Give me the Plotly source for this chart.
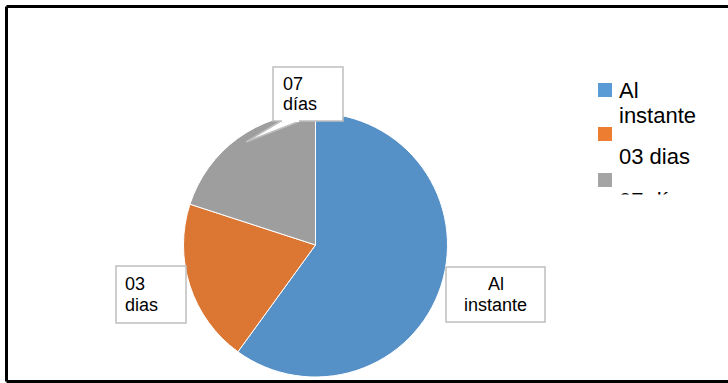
import plotly.graph_objects as go

# Response time categories and their shares
categories = ["Al instante", "03 dias", "07 días"]
shares = [60, 20, 20]
slice_colors = ["#5590C7", "#DC7633", "#9E9E9E"]
legend_colors = ["#5B9BD5", "#ED7D31", "#A5A5A5"]

W, H = 728, 383


def px(x):
    return x / W


def py(y):
    return 1 - y / H


fig = go.Figure()

# Pie: centre ~ (315.5, 245) px, radius ~132 px
cx, cy, r = 315.5, 245, 132
fig.add_trace(go.Pie(
    labels=categories,
    values=shares,
    sort=False,
    direction="clockwise",
    rotation=0,
    textinfo="none",
    hoverinfo="label+percent",
    showlegend=False,
    marker=dict(colors=slice_colors, line=dict(color="white", width=1)),
    domain=dict(x=[px(cx - r), px(cx + r)], y=[py(cy + r), py(cy - r)]),
))

shapes = []
annotations = []
FONT = "Liberation Sans, Arial, sans-serif"

# Outer frame (left, top, bottom)
for x0, y0, x1, y1 in [(6.5, 6.5, 6.5, 381.5), (6.5, 6.5, 728, 6.5), (6.5, 381.5, 728, 381.5)]:
    shapes.append(dict(type="line", xref="paper", yref="paper",
                       x0=px(x0), y0=py(y0), x1=px(x1), y1=py(y1),
                       line=dict(color="black", width=3)))

# Callout boxes for data labels
box_line = dict(color="#BFBFBF", width=1.5)
# tail of the "07 días" callout pointing into its slice
shapes.append(dict(type="path", xref="paper", yref="paper",
                   path=f"M {px(281)},{py(121)} L {px(246)},{py(142)} L {px(300)},{py(121)} Z",
                   fillcolor="white", line=box_line))
for x0, y0, x1, y1 in [(273, 67, 343, 121), (116, 266, 186, 323), (446, 267, 545, 322)]:
    shapes.append(dict(type="rect", xref="paper", yref="paper",
                       x0=px(x0), y0=py(y0), x1=px(x1), y1=py(y1),
                       fillcolor="white", line=box_line))
# cover the join between the tail and the box
shapes.append(dict(type="line", xref="paper", yref="paper",
                   x0=px(282), y0=py(121), x1=px(299), y1=py(121),
                   line=dict(color="white", width=2)))

label_lines = [
    ("07", 281, 84, "left"), ("días", 281, 104, "left"),
    ("03", 123, 284, "left"), ("dias", 123, 305, "left"),
    ("Al", 495.5, 284, "center"), ("instante", 495.5, 305, "center"),
]
for text, x, y, anchor in label_lines:
    annotations.append(dict(text=text, xref="paper", yref="paper", x=px(x), y=py(y),
                            xanchor=anchor, yanchor="middle", showarrow=False,
                            font=dict(family=FONT, size=18, color="black")))

# Legend (drawn by hand, bottom entry cut off by the chart area)
legend_items = [(83, legend_colors[0]), (127, legend_colors[1]), (173, legend_colors[2])]
for top, color in legend_items:
    shapes.append(dict(type="rect", xref="paper", yref="paper",
                       x0=px(598), y0=py(top), x1=px(612), y1=py(top + 14),
                       fillcolor=color, line=dict(width=0)))

legend_lines = [("Al", 91), ("instante", 115), ("03 dias", 156), ("07 días", 200)]
for text, y in legend_lines:
    annotations.append(dict(text=text, xref="paper", yref="paper", x=px(617), y=py(y),
                            xanchor="left", yanchor="middle", showarrow=False,
                            font=dict(family=FONT, size=22, color="black")))

# clip the legend below its visible area
annotations.append(dict(text=" ", xref="paper", yref="paper", x=px(590), y=py(194),
                        xanchor="left", yanchor="top", showarrow=False,
                        width=136, height=60, bgcolor="white", borderpad=0,
                        font=dict(size=10)))

fig.update_layout(
    width=W, height=H,
    margin=dict(l=0, r=0, t=0, b=0),
    paper_bgcolor="white",
    plot_bgcolor="white",
    shapes=shapes,
    annotations=annotations,
    showlegend=False,
)

fig.write_html("out.html")
